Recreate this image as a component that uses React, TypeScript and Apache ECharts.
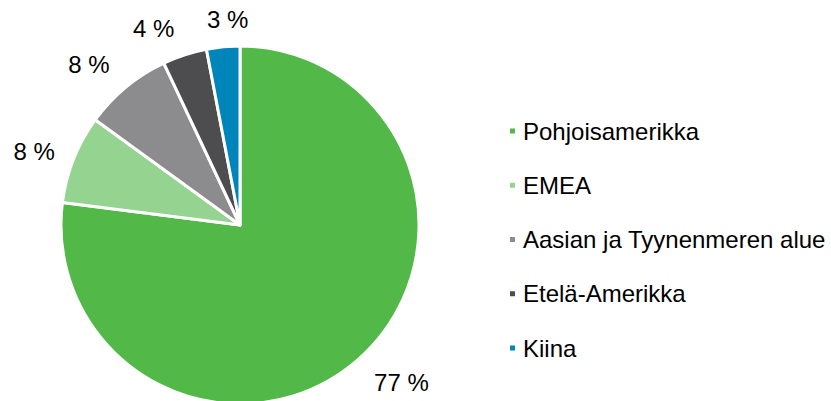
import React, { useEffect, useRef } from "react";
import * as echarts from "echarts";

const categories = ["Pohjoisamerikka", "EMEA", "Aasian ja Tyynenmeren alue", "Etelä-Amerikka", "Kiina"];
const values = [77, 8, 8, 4, 3];
const colors = ["#52B848", "#95D391", "#8C8C8E", "#4D4D4F", "#0085BA"];
const labelShift = [
  [7, -12],
  [-1, 6],
  [-9, 5],
  [-15, 8],
  [13, 9],
];

export default function App() {
  const ref = useRef<HTMLDivElement>(null);
  useEffect(() => {
    const chart = echarts.init(ref.current!, null, { renderer: "svg" });
    chart.setOption({
      animation: false,
      textStyle: { fontFamily: "Liberation Sans, Arial, sans-serif" },
      legend: {
        orient: "vertical",
        left: 508,
        top: 119,
        padding: 0,
        itemWidth: 7,
        itemHeight: 7,
        itemGap: 30.25,
        icon: "rect",
        textStyle: { fontSize: 24, color: "#000", padding: [0, 0, 0, 2] },
        data: categories,
      },
      series: [
        {
          type: "pie",
          center: [240, 225],
          radius: 179,
          startAngle: 90,
          clockwise: true,
          avoidLabelOverlap: false,
          itemStyle: { borderColor: "#fff", borderWidth: 3 },
          label: {
            show: true,
            position: "outside",
            formatter: "{c} %",
            fontSize: 24,
            color: "#000",
          },
          labelLine: { show: false, length: 36, length2: 0 },
          labelLayout: (p: any) => ({
            align: "center",
            verticalAlign: "middle",
            dx: labelShift[p.dataIndex][0],
            dy: labelShift[p.dataIndex][1],
          }),
          data: categories.map((name, i) => ({
            name,
            value: values[i],
            itemStyle: { color: colors[i] },
            labelLine: i === 0 ? { length: 47, length2: 0 } : undefined,
          })),
        },
      ],
    });
    return () => chart.dispose();
  }, []);
  return <div ref={ref} style={{ width: 831, height: 401, position: "absolute", left: 0, top: 0 }} />;
}
